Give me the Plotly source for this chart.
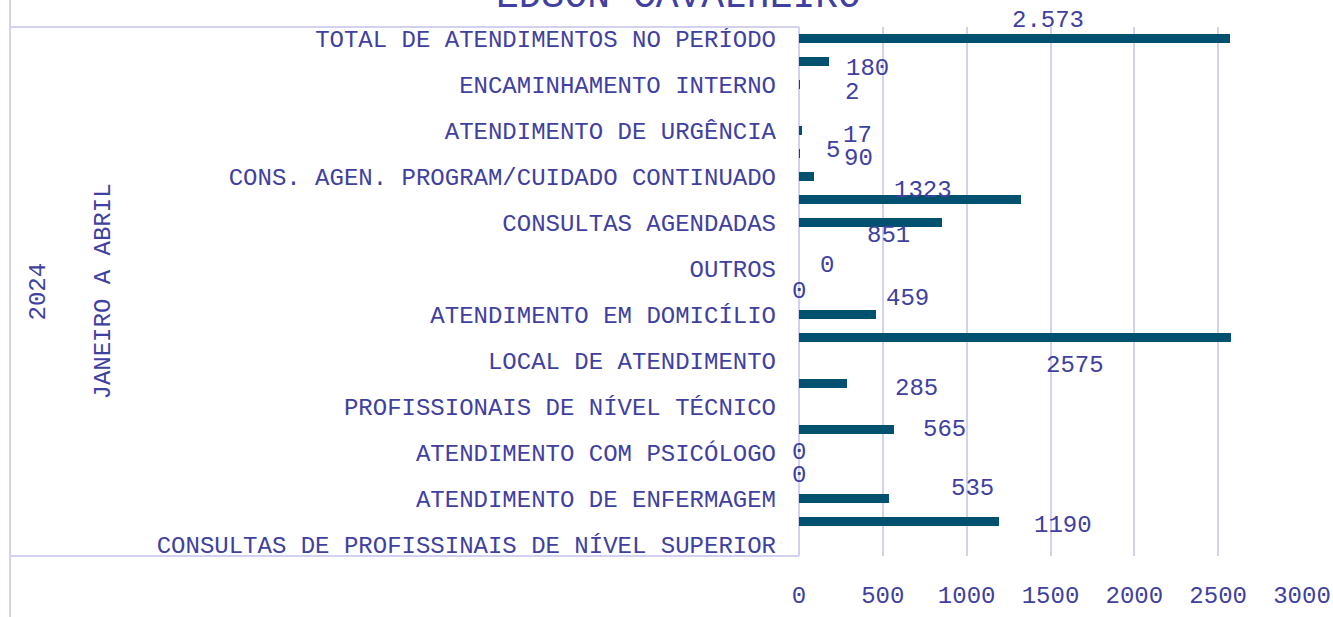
import plotly.graph_objects as go

# ---------------- data ----------------
slot_values = [2573, 180, 2, None, 17, 5, 90, 1323, 851, None, 0, 0, 459, 2575,
               None, 285, None, 565, 0, 0, 535, 1190, None]
value_labels = ["2.573", "180", "2", None, "17", "5", "90", "1323", "851", None, "0", "0",
                "459", "2575", None, "285", None, "565", "0", "0", "535", "1190", None]
category_labels = [
    "TOTAL DE ATENDIMENTOS NO PERÍODO",
    "ENCAMINHAMENTO INTERNO",
    "ATENDIMENTO DE URGÊNCIA",
    "CONS. AGEN. PROGRAM/CUIDADO CONTINUADO",
    "CONSULTAS AGENDADAS",
    "OUTROS",
    "ATENDIMENTO EM DOMICÍLIO",
    "LOCAL DE ATENDIMENTO",
    "PROFISSIONAIS DE NÍVEL TÉCNICO",
    "ATENDIMENTO COM PSICÓLOGO",
    "ATENDIMENTO DE ENFERMAGEM",
    "CONSULTAS DE PROFISSINAIS DE NÍVEL SUPERIOR",
]
period_label = "JANEIRO A ABRIL"
year_label = "2024"
title_text = "EDSON CAVALHEIRO"
x_ticks = [0, 500, 1000, 1500, 2000, 2500, 3000]

# ---------------- style ----------------
W, H = 1333, 617
ML, MR, MT, MB = 799, 31, 27, 61
PW, PH = W - ML - MR, H - MT - MB
TXT = "#4040A0"
GRID = "#D2D2F0"
BAR = "#00506F"
FONT = "Courier New, Nimbus Mono PS, FreeMono, Liberation Mono, monospace"
FS = 24

# manual label offsets (px) replicating the hand-placed data labels
label_shift = [(-182, 18), (38, -7), (53, -8), None, (56, -5), (33, 3), (44, 18),
               (-98, 9), (-53, -13), None, (28, 3), (0, 0), (32, 16), (-156, -28),
               None, (70, -5), None, (51, 0), (0, 0), (0, 0), (84, 10), (64, -4), None]

slots = list(range(len(slot_values)))
label_slots = slots[::2]


def px_to_paper_x(px):
    return (px - ML) / PW


def px_to_paper_y(py):
    return (H - MB - py) / PH


fig = go.Figure()
fig.add_trace(go.Bar(
    x=slot_values, y=slots, orientation="h", width=0.4,
    marker=dict(color=BAR, line=dict(width=0)),
    hoverinfo="x",
))

annotations = []
for v, s, t, sh in zip(slot_values, slots, value_labels, label_shift):
    if v is None or t is None:
        continue
    annotations.append(dict(
        x=v, y=s, xref="x", yref="y", text=t, showarrow=False,
        xanchor="center", yanchor="middle", xshift=sh[0], yshift=sh[1],
        font=dict(family=FONT, size=FS, color=TXT),
    ))

# outer category levels
annotations.append(dict(x=px_to_paper_x(103), y=0.5, xref="paper", yref="paper",
                        text=period_label, textangle=-90, showarrow=False,
                        xanchor="center", yanchor="middle",
                        font=dict(family=FONT, size=FS, color=TXT)))
annotations.append(dict(x=px_to_paper_x(38), y=0.5, xref="paper", yref="paper",
                        text=year_label, textangle=-90, showarrow=False,
                        xanchor="center", yanchor="middle",
                        font=dict(family=FONT, size=FS, color=TXT)))
# title (partially cut off at the top, as in the reference)
annotations.append(dict(x=px_to_paper_x(678), y=px_to_paper_y(-3), xref="paper", yref="paper",
                        text=title_text, showarrow=False,
                        xanchor="center", yanchor="middle",
                        font=dict(family=FONT, size=38, color=TXT)))

xl = px_to_paper_x(10)
shapes = [
    dict(type="line", xref="paper", yref="paper", x0=xl, x1=xl,
         y0=px_to_paper_y(H + 5), y1=px_to_paper_y(-5), line=dict(color=GRID, width=2)),
    dict(type="line", xref="paper", yref="paper", x0=xl, x1=0, y0=1, y1=1,
         line=dict(color=GRID, width=2)),
    dict(type="line", xref="paper", yref="paper", x0=xl, x1=0, y0=0, y1=0,
         line=dict(color=GRID, width=2)),
]

fig.update_layout(
    width=W, height=H,
    margin=dict(l=ML, r=MR, t=MT, b=MB, pad=0),
    paper_bgcolor="white", plot_bgcolor="white",
    showlegend=False,
    annotations=annotations,
    shapes=shapes,
    bargap=0,
)
fig.update_xaxes(
    range=[0, 3000], tickvals=x_ticks, ticktext=[str(t) for t in x_ticks],
    showgrid=True, gridcolor=GRID, gridwidth=2,
    zeroline=True, zerolinecolor=GRID, zerolinewidth=2,
    showline=False, ticks="", automargin=False,
    tickfont=dict(family=FONT, size=FS, color=TXT),
    ticklabelstandoff=22,
    fixedrange=True,
)
fig.update_yaxes(
    range=[len(slots) - 0.5, -0.5],
    tickvals=label_slots, ticktext=category_labels,
    showgrid=False, zeroline=False, showline=False, ticks="",
    automargin=False,
    tickfont=dict(family=FONT, size=FS, color=TXT),
    ticklabelstandoff=22,
    fixedrange=True,
)

fig.write_html(
    "out.html",
    config={"displayModeBar": False},
    post_script="document.body.style.margin='0';document.body.style.overflow='hidden';",
)
